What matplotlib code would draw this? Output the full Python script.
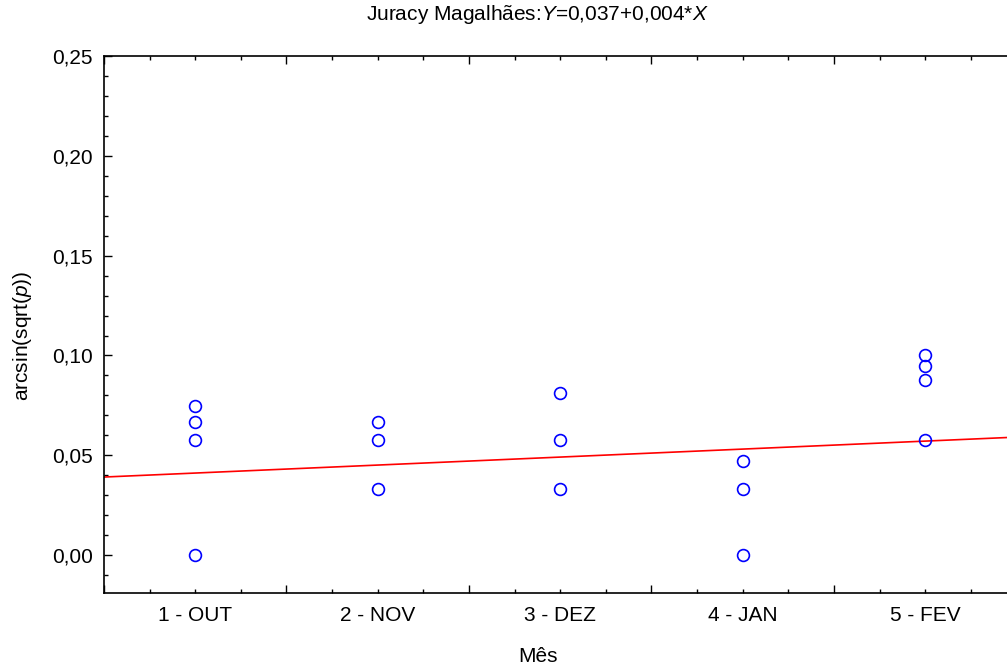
import numpy as np
import matplotlib
matplotlib.use("Agg")
import matplotlib.pyplot as plt
from matplotlib.ticker import FuncFormatter

plt.rcParams["font.family"] = ["Liberation Sans", "DejaVu Sans"]
plt.rcParams["mathtext.fontset"] = "custom"
plt.rcParams["mathtext.rm"] = "Liberation Sans"
plt.rcParams["mathtext.it"] = "Liberation Sans:italic"

# month index and arcsin(sqrt(p)) values
mes = [1, 1, 1, 1, 2, 2, 2, 3, 3, 3, 4, 4, 4, 5, 5, 5, 5]
valores = [0.0747, 0.0665, 0.0576, 0.0, 0.0665, 0.0576, 0.0331,
           0.0812, 0.0576, 0.0331, 0.0469, 0.0331, 0.0,
           0.1002, 0.0947, 0.0877, 0.0576]
rotulos = ["1 - OUT", "2 - NOV", "3 - DEZ", "4 - JAN", "5 - FEV"]
intercepto = 0.0371
inclinacao = 0.0040

fig = plt.figure(figsize=(10.07, 6.71), dpi=100)
ax = fig.add_axes([0.1033, 0.1162, 0.906, 0.8003])

xs = np.array([0.5, 5.5])
ax.plot(xs, intercepto + inclinacao * xs, color="#ff0000", lw=1.2, zorder=2)
ax.plot(mes, valores, "o", mfc="none", mec="#0000ff", ms=8.5, mew=1.2, zorder=3)

ax.set_xlim(0.5, 5.5)
ax.set_ylim(-0.019, 0.25)

# x: long ticks at bin edges, short ticks every quarter, labels at centres
ax.set_xticks(np.arange(0.5, 5.6, 1.0))
ax.set_xticklabels([])
quartos = [q for q in np.arange(0.75, 5.5, 0.25) if abs(q - round(q - 0.5) - 0.5) > 1e-6]
ax.set_xticks(quartos, minor=True)
ax.set_xticklabels([rotulos[int(round(q)) - 1] if abs(q - round(q)) < 1e-6 else "" for q in quartos],
                   minor=True)

ax.set_yticks(np.arange(0, 0.251, 0.05))
ax.set_yticks(np.arange(-0.01, 0.25, 0.01), minor=True)
ax.yaxis.set_major_formatter(FuncFormatter(lambda v, p: f"{v:.2f}".replace(".", ",")))

ax.tick_params(which="both", direction="in", top=True, right=True, labelsize=15, width=1.0)
ax.tick_params(which="major", length=6)
ax.tick_params(which="minor", length=3)
ax.tick_params(axis="x", which="minor", pad=9)
ax.tick_params(axis="y", which="major", pad=8)

for s in ax.spines.values():
    s.set_linewidth(1.2)

fig.text(0.534, 1 - 657 / 671, "Mês", ha="center", va="center", fontsize=15)
fig.text(22 / 1007, 1 - 336 / 671, r"arcsin(sqrt($\it{p}$))", ha="center", va="center",
         rotation=90, fontsize=15)
fig.text(0.534, 1 - 14 / 671, r"Juracy Magalhães:$\it{Y}$=0,037+0,004*$\it{X}$",
         ha="center", va="center", fontsize=15)

fig.savefig("out.png", dpi=100)
